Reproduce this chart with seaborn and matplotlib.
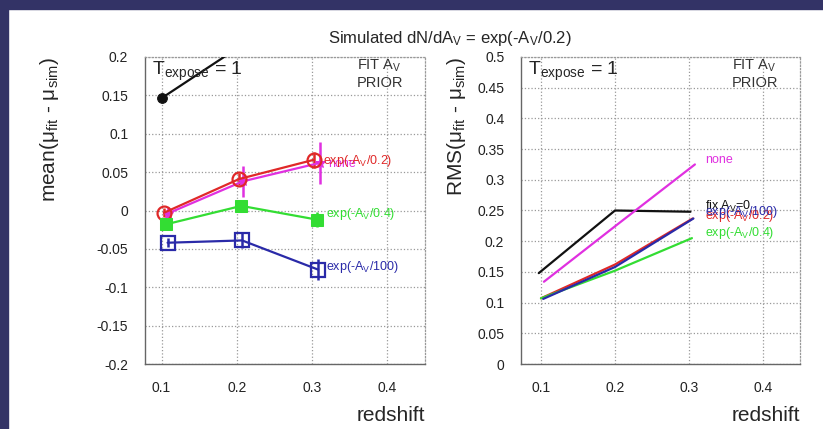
import matplotlib
matplotlib.use("Agg")
import matplotlib.pyplot as plt
from matplotlib.ticker import MultipleLocator, FuncFormatter
from matplotlib.patches import Rectangle
import seaborn as sns

# ---- data ----
series = ["fix", "none", "exp02", "exp04", "exp100"]
colors = {"fix": "#111111", "none": "#e030e0", "exp02": "#e02828",
          "exp04": "#33dd33", "exp100": "#2a2aa8"}

# left panel: mean(mu_fit - mu_sim) vs redshift
mean_z = {"fix": [0.101, 0.2, 0.3],
          "none": [0.108, 0.208, 0.310],
          "exp02": [0.103, 0.203, 0.302],
          "exp04": [0.106, 0.206, 0.307],
          "exp100": [0.108, 0.207, 0.308]}
mean_val = {"fix": [0.147, 0.211, 0.26],
            "none": [-0.004, 0.038, 0.062],
            "exp02": [-0.003, 0.041, 0.066],
            "exp04": [-0.018, 0.006, -0.012],
            "exp100": [-0.042, -0.039, -0.077]}
mean_err = {"fix": [0.005, 0.006, 0.008],
            "none": [0.008, 0.020, 0.027],
            "exp02": [0.006, 0.008, 0.010],
            "exp04": [0.008, 0.008, 0.010],
            "exp100": [0.006, 0.010, 0.014]}

# right panel: RMS(mu_fit - mu_sim) vs redshift
rms_z = {"fix": [0.097, 0.2, 0.302],
         "none": [0.104, 0.204, 0.308],
         "exp02": [0.1, 0.2, 0.305],
         "exp04": [0.1, 0.2, 0.304],
         "exp100": [0.103, 0.2, 0.306]}
rms_val = {"fix": [0.148, 0.250, 0.248],
           "none": [0.134, 0.228, 0.325],
           "exp02": [0.107, 0.162, 0.237],
           "exp04": [0.107, 0.152, 0.205],
           "exp100": [0.106, 0.158, 0.237]}

labels = {"fix": r"fix A$_V$=0", "none": "none",
          "exp02": r"exp(-A$_V$/0.2)", "exp04": r"exp(-A$_V$/0.4)",
          "exp100": r"exp(-A$_V$/100)"}
mean_label_pos = {"none": (0.322, 0.060), "exp02": (0.315, 0.065),
                  "exp04": (0.318, -0.005), "exp100": (0.319, -0.073)}
rms_label_pos = {"none": (0.322, 0.333), "fix": (0.321, 0.257),
                 "exp100": (0.3215, 0.247), "exp02": (0.3215, 0.241),
                 "exp04": (0.3216, 0.214)}

markers = {"fix": dict(marker="o", ms=7, mfc="#111111", mec="#111111"),
           "none": dict(marker="*", ms=8, mfc="#e030e0", mec="#e030e0"),
           "exp02": dict(marker="o", ms=10, mfc="none", mec="#e02828", mew=1.6),
           "exp04": dict(marker="s", ms=8, mfc="#33dd33", mec="#33dd33"),
           "exp100": dict(marker="s", ms=10, mfc="none", mec="#2a2aa8", mew=1.6)}

sns.set_style("white")
plt.rcParams["font.family"] = ["Liberation Sans", "DejaVu Sans"]
plt.rcParams["mathtext.fontset"] = "custom"
plt.rcParams["mathtext.rm"] = "Liberation Sans"
plt.rcParams["mathtext.it"] = "Liberation Sans:italic"
plt.rcParams["mathtext.default"] = "regular"
plt.rcParams["axes.unicode_minus"] = False

fig = plt.figure(figsize=(8.23, 4.29), dpi=100)
fig.patch.set_facecolor("white")
fig.patches.append(Rectangle((0, 0), 8 / 823, 1, transform=fig.transFigure,
                             color="#333366", zorder=0))
fig.patches.append(Rectangle((0, 1 - 9 / 429), 1, 9 / 429, transform=fig.transFigure,
                             color="#333366", zorder=0))

axL = fig.add_axes([145 / 823, 1 - 364 / 429, 280 / 823, 307 / 429])
axR = fig.add_axes([521 / 823, 1 - 364 / 429, 279 / 823, 307 / 429])

fmt = FuncFormatter(lambda v, pos: "%g" % round(v, 4))


def style_axis(ax, ylim, ymaj, ymin):
    ax.set_xlim(0.078, 0.45)
    ax.set_ylim(*ylim)
    ax.xaxis.set_major_locator(MultipleLocator(0.1))
    ax.xaxis.set_minor_locator(MultipleLocator(0.02))
    ax.yaxis.set_major_locator(MultipleLocator(ymaj))
    ax.yaxis.set_minor_locator(MultipleLocator(ymin))
    ax.xaxis.set_major_formatter(fmt)
    ax.yaxis.set_major_formatter(fmt)
    ax.grid(True, which="major", ls=":", color="#999999", lw=0.9)
    ax.tick_params(which="major", direction="out", length=7, color="#666666",
                   labelsize=10, labelcolor="#222222", pad=5)
    ax.tick_params(which="minor", direction="out", length=4, color="#888888")
    for s in ["left", "bottom"]:
        ax.spines[s].set_color("#666666")
        ax.spines[s].set_linewidth(1.0)
    for s in ["top", "right"]:
        ax.spines[s].set_color("#999999")
        ax.spines[s].set_linestyle(":")
        ax.spines[s].set_linewidth(0.9)
    ax.set_xlabel("redshift", fontsize=15, loc="right", labelpad=8)
    ax.text(0.025, 0.94, r"T$_{expose}$ = 1", transform=ax.transAxes,
            fontsize=14, va="baseline", ha="left")
    ax.text(0.757, 0.958, r"FIT A$_V$", transform=ax.transAxes,
            fontsize=10.5, va="baseline", ha="left", color="#333333")
    ax.text(0.757, 0.902, "PRIOR", transform=ax.transAxes,
            fontsize=10.5, va="baseline", ha="left", color="#333333")


# left panel
for s in series:
    ax = axL
    ax.errorbar(mean_z[s], mean_val[s], yerr=mean_err[s], fmt="none",
                ecolor=colors[s], elinewidth=1.8, capsize=0, zorder=2)
    sns.lineplot(x=mean_z[s], y=mean_val[s], ax=ax, color=colors[s], lw=1.6,
                 sort=False, errorbar=None, zorder=3, **markers[s])
    if s in mean_label_pos:
        x, y = mean_label_pos[s]
        ax.text(x, y, labels[s], color=colors[s], fontsize=9, va="center", ha="left")
style_axis(axL, (-0.2, 0.2), 0.05, 0.01)
axL.set_ylabel(r"mean($\mu_{fit}$ - $\mu_{sim}$)", fontsize=15, loc="top")
axL.yaxis.set_label_coords(-0.30, 1.0)

# right panel
for s in series:
    sns.lineplot(x=rms_z[s], y=rms_val[s], ax=axR, color=colors[s], lw=1.6,
                 sort=False, errorbar=None)
    x, y = rms_label_pos[s]
    axR.text(x, y, labels[s], color=colors[s], fontsize=9, va="center", ha="left")
style_axis(axR, (0, 0.5), 0.05, 0.01)
axR.set_xlim(0.073, 0.45)
axR.set_ylabel(r"RMS($\mu_{fit}$ - $\mu_{sim}$)", fontsize=15, loc="top")
axR.yaxis.set_label_coords(-0.19, 1.0)

fig.text(450 / 823, 1 - 38 / 429, r"Simulated dN/dA$_V$ = exp(-A$_V$/0.2)",
         fontsize=12, ha="center", va="center")

fig.savefig("out.png", dpi=100)
